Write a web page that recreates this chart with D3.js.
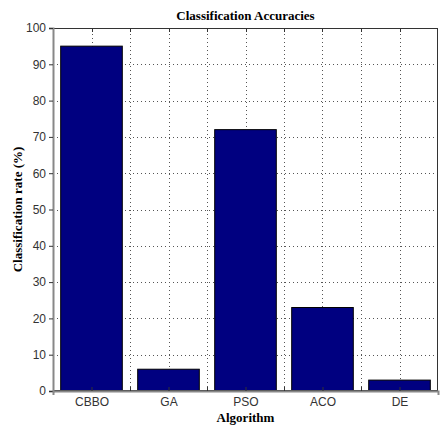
<!DOCTYPE html>
<html>
<head>
<meta charset="utf-8">
<script src="https://cdn.jsdelivr.net/npm/d3@7"></script>
<style>
  html, body { margin: 0; padding: 0; background: #fff; }
  svg { display: block; }
</style>
</head>
<body>
<svg id="chart" width="448" height="428"></svg>
<script>
// Algorithm names and their classification rates (%)
const algorithms = ["CBBO", "GA", "PSO", "ACO", "DE"];
const rates = [95, 6, 72, 23, 3];
const yTicks = [0, 10, 20, 30, 40, 50, 60, 70, 80, 90, 100];
const xGrid = [1, 1.5, 2, 2.5, 3, 3.5, 4, 4.5, 5];

const W = 448, H = 428;
const m = { left: 53, right: 10, top: 28, bottom: 37 };
const svg = d3.select("#chart");

const x = d3.scaleLinear().domain([0.5, 5.5]).range([m.left, W - m.right]);
const y = d3.scaleLinear().domain([0, 100]).range([H - m.bottom, m.top]);

const serif = "'Liberation Serif', 'DejaVu Serif', serif";
const sans = "'Liberation Sans', Arial, sans-serif";

// dotted grid
const grid = svg.append("g").attr("stroke", "#555").attr("stroke-width", 1)
  .attr("stroke-dasharray", "1,3").attr("shape-rendering", "crispEdges");
grid.selectAll("line.v").data(xGrid).join("line").attr("class", "v")
  .attr("x1", d => Math.round(x(d)) + 0.5).attr("x2", d => Math.round(x(d)) + 0.5)
  .attr("y1", y(0)).attr("y2", y(100));
grid.selectAll("line.h").data(yTicks.slice(1, -1)).join("line").attr("class", "h")
  .attr("y1", d => Math.round(y(d)) + 0.5).attr("y2", d => Math.round(y(d)) + 0.5)
  .attr("x1", x(0.5)).attr("x2", x(5.5));

// bars
const bw = 0.8;
svg.append("g").selectAll("rect").data(rates).join("rect")
  .attr("x", (d, i) => x(i + 1 - bw / 2))
  .attr("width", x(bw) - x(0))
  .attr("y", d => y(d))
  .attr("height", d => y(0) - y(d))
  .attr("fill", "#000080")
  .attr("stroke", "#000")
  .attr("stroke-width", 1);

// frame
svg.append("rect")
  .attr("x", x(0.5) + 0.5).attr("y", y(100) + 0.5)
  .attr("width", x(5.5) - x(0.5) - 1).attr("height", y(0) - y(100) - 1)
  .attr("fill", "none").attr("stroke", "#333").attr("stroke-width", 1);

// y axis
const yAxis = d3.axisLeft(y).tickValues(yTicks).tickSize(4).tickPadding(3)
  .tickFormat(d3.format("d"));
const gy = svg.append("g").attr("transform", `translate(${x(0.5)},0)`).call(yAxis);
gy.select(".domain").attr("stroke", "#888").attr("stroke-width", 2);
gy.selectAll(".tick line").attr("stroke", "#333");
gy.selectAll("text").attr("font-family", sans).attr("font-size", 12).attr("fill", "#333");

// top ticks on frame at x grid positions
svg.append("g").selectAll("line").data(xGrid).join("line")
  .attr("x1", d => Math.round(x(d)) + 0.5).attr("x2", d => Math.round(x(d)) + 0.5)
  .attr("y1", y(100)).attr("y2", y(100) + 4).attr("stroke", "#333");

// x axis
const xAxis = d3.axisBottom(x).tickValues(xGrid).tickSize(4).tickPadding(2)
  .tickFormat(d => Number.isInteger(d) ? algorithms[d - 1] : "");
const gx = svg.append("g").attr("transform", `translate(0,${y(0)})`).call(xAxis);
gx.select(".domain").attr("stroke", "#888").attr("stroke-width", 2);
gx.selectAll(".tick line").attr("stroke", "#333").attr("transform", "translate(0,-4)");
gx.selectAll("text").attr("font-family", sans).attr("font-size", 12).attr("fill", "#333");

// titles
svg.append("text").attr("x", (x(0.5) + x(5.5)) / 2).attr("y", 20)
  .attr("text-anchor", "middle").attr("font-family", serif).attr("font-weight", "bold")
  .attr("font-size", 13).text("Classification Accuracies");
svg.append("text").attr("x", (x(0.5) + x(5.5)) / 2).attr("y", 422)
  .attr("text-anchor", "middle").attr("font-family", serif).attr("font-weight", "bold")
  .attr("font-size", 13).text("Algorithm");
svg.append("text")
  .attr("transform", `translate(22,${(y(0) + y(100)) / 2}) rotate(-90)`)
  .attr("text-anchor", "middle").attr("font-family", serif).attr("font-weight", "bold")
  .attr("font-size", 13).text("Classification rate (%)");
</script>
</body>
</html>
